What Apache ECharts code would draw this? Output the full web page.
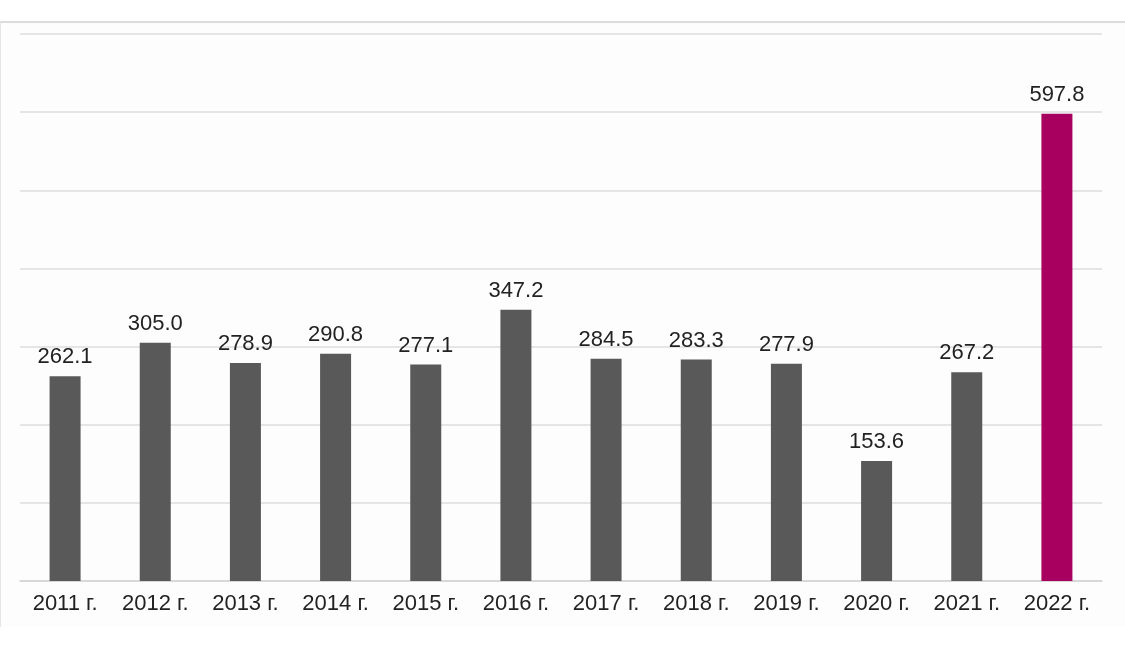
<!DOCTYPE html>
<html><head><meta charset="utf-8">
<script src="https://cdn.jsdelivr.net/npm/echarts@6/dist/echarts.min.js"></script>
<style>
html,body{margin:0;padding:0;background:#fff;}
#frame{position:absolute;left:0;top:21px;width:1125px;height:606px;border-top:2px solid #dcdcdc;border-left:1px solid #e6e6e6;background:#fdfdfd;box-sizing:border-box;}
#chart{position:absolute;left:0;top:0;width:1125px;height:649px;}
</style></head>
<body>
<div id="frame"></div>
<div id="chart"></div>
<script>
const categories = ['2011 г.','2012 г.','2013 г.','2014 г.','2015 г.','2016 г.','2017 г.','2018 г.','2019 г.','2020 г.','2021 г.','2022 г.'];
const values = [262.1,305.0,278.9,290.8,277.1,347.2,284.5,283.3,277.9,153.6,267.2,597.8];
const highlightIndex = 11;
const chart = echarts.init(document.getElementById('chart'));
chart.setOption({
  animation:false,
  backgroundColor:'transparent',
  grid:{left:20,right:23,top:34,bottom:68},
  xAxis:{type:'category',data:categories,
    axisLine:{lineStyle:{color:'#d4d4d4',width:1.5}},axisTick:{show:false},
    axisLabel:{color:'#222',fontSize:22,fontFamily:'Liberation Sans, Arial, sans-serif',margin:12}},
  yAxis:{type:'value',min:0,max:700,interval:100,axisLabel:{show:false},axisLine:{show:false},axisTick:{show:false},
    splitLine:{lineStyle:{color:'#dcdcdc',width:1.5}}},
  series:[{type:'bar',barWidth:31,
    data:values.map((v,i)=>({value:v,itemStyle:{color:i===highlightIndex?'#a8005e':'#595959'}})),
    label:{show:true,position:'top',distance:8,formatter:p=>p.value.toFixed(1),color:'#222',fontSize:22,fontFamily:'Liberation Sans, Arial, sans-serif'}}]
});
</script>
</body></html>
